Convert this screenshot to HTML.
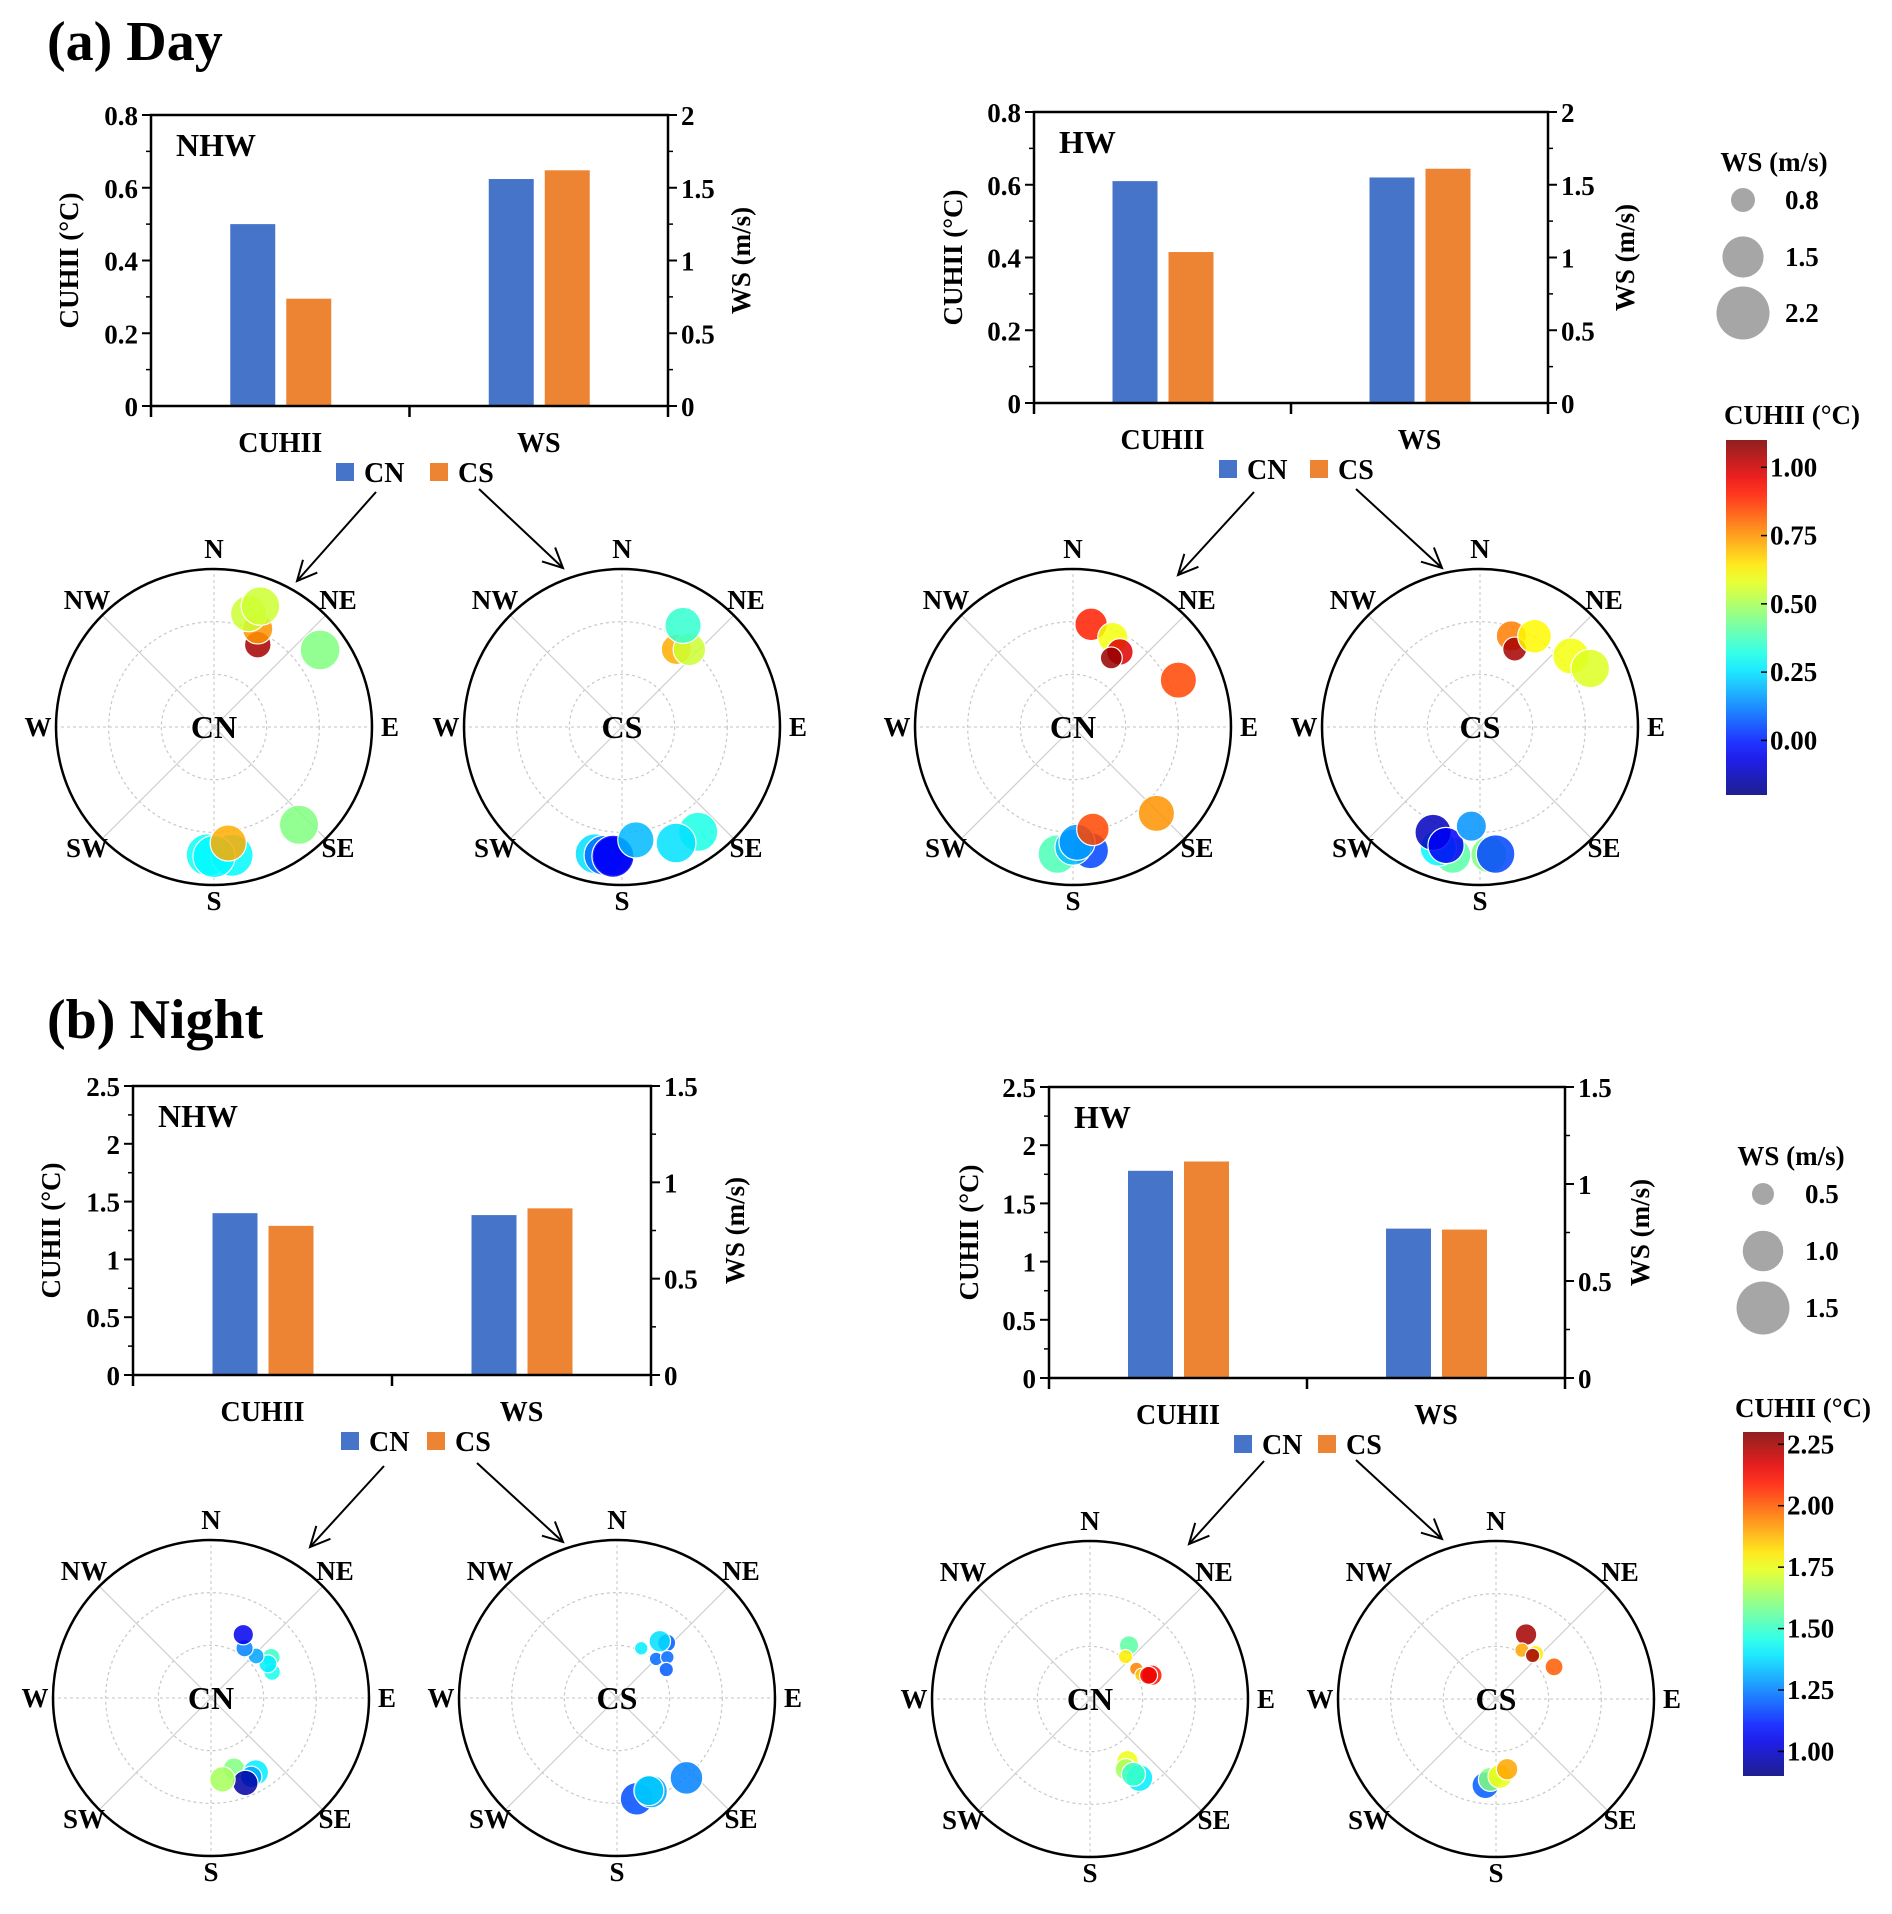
<!DOCTYPE html>
<html><head><meta charset="utf-8"><style>
html,body{margin:0;padding:0;background:#fff;}
svg{display:block;font-family:"Liberation Serif",serif;font-weight:bold;}
svg text{font-family:"Liberation Serif",serif;font-weight:bold;}
</style></head><body>
<svg id="fig" width="1892" height="1914" viewBox="0 0 1892 1914" xmlns="http://www.w3.org/2000/svg">
<text x="47" y="60" font-size="56" font-family="Liberation Serif, serif">(a) Day</text>
<text x="47" y="1038" font-size="56" font-family="Liberation Serif, serif">(b) Night</text>
</svg>
<script>
// ---------- bar data ----------
const barCategories = ["CUHII", "WS"];
const dayNhwCN = [0.50, 1.56];
const dayNhwCS = [0.295, 1.62];
const dayHwCN = [0.61, 1.55];
const dayHwCS = [0.415, 1.61];
const nightNhwCN = [1.40, 0.83];
const nightNhwCS = [1.29, 0.865];
const nightHwCN = [1.78, 0.77];
const nightHwCS = [1.86, 0.765];
const dayLeftTicks = ["0", "0.2", "0.4", "0.6", "0.8"];
const dayRightTicks = ["0", "0.5", "1", "1.5", "2"];
const nightLeftTicks = ["0", "0.5", "1", "1.5", "2", "2.5"];
const nightRightTicks = ["0", "0.5", "1", "1.5"];

// ---------- polar data: direction deg, radial fraction, WS, CUHII ----------
const dayNhwCNDir = [28, 24, 17, 21, 54, 139, 183, 172, 180, 173];
const dayNhwCNRad = [0.59, 0.68, 0.75, 0.82, 0.83, 0.82, 0.81, 0.82, 0.82, 0.74];
const dayNhwCNWs = [0.88, 1.01, 1.26, 1.37, 1.43, 1.4, 1.55, 1.55, 1.55, 1.26];
const dayNhwCNVal = [1.05, 0.75, 0.55, 0.55, 0.45, 0.45, 0.3, 0.28, 0.28, 0.72];

const dayNhwCSDir = [35, 41, 31, 144, 155, 192, 188, 184, 184, 173];
const dayNhwCSRad = [0.6, 0.65, 0.75, 0.82, 0.81, 0.82, 0.82, 0.82, 0.82, 0.72];
const dayNhwCSWs = [1.01, 1.1, 1.26, 1.4, 1.43, 1.43, 1.43, 1.43, 1.55, 1.26];
const dayNhwCSVal = [0.72, 0.55, 0.35, 0.32, 0.25, 0.25, 0.1, 0.0, -0.05, 0.2];

const dayHwCNDir = [10, 24, 32, 29, 66, 136, 187, 172, 180, 178, 169];
const dayHwCNRad = [0.66, 0.62, 0.56, 0.5, 0.73, 0.76, 0.81, 0.79, 0.76, 0.73, 0.66];
const dayHwCNWs = [1.1, 1.01, 0.88, 0.74, 1.26, 1.26, 1.37, 1.26, 1.26, 1.26, 1.1];
const dayHwCNVal = [0.9, 0.6, 0.98, 1.07, 0.85, 0.75, 0.38, 0.05, 0.2, 0.15, 0.85];

const dayHwCSDir = [19, 24, 31, 52, 62, 192, 199, 204, 196, 185, 176, 173];
const dayHwCSRad = [0.61, 0.54, 0.67, 0.73, 0.79, 0.83, 0.81, 0.73, 0.78, 0.63, 0.81, 0.81];
const dayHwCSWs = [1.01, 0.8, 1.15, 1.26, 1.37, 1.26, 1.26, 1.26, 1.26, 1.01, 1.26, 1.37];
const dayHwCSVal = [0.78, 1.05, 0.62, 0.6, 0.57, 0.4, 0.28, -0.12, -0.05, 0.15, 0.45, 0.05];

const nightNhwCNDir = [56, 67, 59, 47, 34, 27, 162, 149, 153, 158, 172];
const nightNhwCNRad = [0.46, 0.42, 0.42, 0.39, 0.38, 0.45, 0.47, 0.55, 0.56, 0.58, 0.52];
const nightNhwCNWs = [0.43, 0.41, 0.43, 0.4, 0.42, 0.47, 0.49, 0.57, 0.49, 0.57, 0.57];
const nightNhwCNVal = [1.5, 1.45, 1.4, 1.3, 1.25, 1.05, 1.6, 1.4, 1.3, 0.95, 1.65];

const nightNhwCSDir = [26, 42, 45, 51, 60, 37, 139, 169, 160, 161];
const nightNhwCSRad = [0.35, 0.47, 0.35, 0.41, 0.36, 0.45, 0.67, 0.65, 0.63, 0.62];
const nightNhwCSWs = [0.37, 0.43, 0.37, 0.37, 0.38, 0.49, 0.75, 0.75, 0.75, 0.68];
const nightNhwCSVal = [1.4, 1.2, 1.22, 1.22, 1.2, 1.38, 1.25, 1.18, 1.3, 1.35];

const nightHwCNDir = [36, 40, 57, 65, 69, 68, 149, 153, 148, 150];
const nightHwCNRad = [0.42, 0.35, 0.35, 0.36, 0.42, 0.4, 0.46, 0.5, 0.59, 0.55];
const nightHwCNWs = [0.45, 0.38, 0.37, 0.37, 0.47, 0.43, 0.49, 0.49, 0.6, 0.54];
const nightHwCNVal = [1.55, 1.8, 1.95, 1.85, 2.1, 2.15, 1.75, 1.65, 1.4, 1.5];

const nightHwCSDir = [25, 28, 41, 40, 61, 187, 184, 177, 171];
const nightHwCSRad = [0.45, 0.35, 0.38, 0.36, 0.42, 0.55, 0.51, 0.49, 0.45];
const nightHwCSWs = [0.49, 0.38, 0.41, 0.38, 0.43, 0.6, 0.54, 0.54, 0.49];
const nightHwCSVal = [2.25, 1.9, 1.8, 2.25, 2.0, 1.2, 1.6, 1.75, 1.9];

// ---------- legends ----------
const daySizeLegend = [0.8, 1.5, 2.2];
const nightSizeLegend = [0.5, 1.0, 1.5];
const dayColorTicks = [0.0, 0.25, 0.5, 0.75, 1.0];
const nightColorTicks = [1.0, 1.25, 1.5, 1.75, 2.0, 2.25];

const NS = "http://www.w3.org/2000/svg";
const svg = document.getElementById("fig");
function mk(tag, attrs, parent, txt) {
  const e = document.createElementNS(NS, tag);
  for (const k in attrs) e.setAttribute(k, attrs[k]);
  if (tag === "text") { e.setAttribute("font-family", "Liberation Serif, serif"); e.setAttribute("font-weight", "bold"); }
  if (txt !== undefined) e.textContent = txt;
  (parent || svg).appendChild(e);
  return e;
}
function jet(t) {
  t = Math.max(0, Math.min(1, t));
  const c = v => Math.round(255 * Math.max(0, Math.min(1, v)));
  return `rgb(${c(1.5 - Math.abs(4 * t - 3))},${c(1.5 - Math.abs(4 * t - 2))},${c(1.5 - Math.abs(4 * t - 1))})`;
}

function barPanel(p) {
  const g = mk("g", {});
  
  
  const W = p.x1 - p.x0, H = p.y1 - p.y0;
  const yL = v => p.y1 - v / p.lmax * H;
  const yR = v => p.y1 - v / p.rmax * H;
  const catX = i => p.x0 + W * (0.25 + 0.5 * i);
  const bw = 45;
  for (let i = 0; i < barCategories.length; i++) {
    const sc = i === 0 ? yL : yR;
    const cx = catX(i);
    const b1 = mk("rect", { x: cx - 50, y: sc(p.cn[i]), width: bw, height: p.y1 - sc(p.cn[i]), fill: "#4674C8" }, g);
    
    
    const b2 = mk("rect", { x: cx + 6, y: sc(p.cs[i]), width: bw, height: p.y1 - sc(p.cs[i]), fill: "#ED8433" }, g);
    
    
    const cl = mk("text", { x: cx, y: p.y1 + 46, "font-size": 28, "text-anchor": "middle" }, g, barCategories[i]);
    
    
  }
  const frame = mk("rect", { x: p.x0, y: p.y0, width: W, height: H, fill: "none", stroke: "#000", "stroke-width": 2.5 }, g);
  
  
  p.lt.forEach((t, i) => {
    const v = parseFloat(t), y = yL(v);
    mk("line", { x1: p.x0 - 9, x2: p.x0, y1: y, y2: y, stroke: "#000", "stroke-width": 2 }, g);
    const tl = mk("text", { x: p.x0 - 13, y: y + 10, "font-size": 27, "text-anchor": "end" }, g, t);
    
    
    if (i < p.lt.length - 1) {
      const ym = yL(v + p.lstep / 2);
      mk("line", { x1: p.x0 - 5, x2: p.x0, y1: ym, y2: ym, stroke: "#000", "stroke-width": 1.5 }, g);
    }
  });
  p.rt.forEach((t, i) => {
    const v = parseFloat(t), y = yR(v);
    mk("line", { x1: p.x1, x2: p.x1 + 9, y1: y, y2: y, stroke: "#000", "stroke-width": 2 }, g);
    const tr = mk("text", { x: p.x1 + 13, y: y + 10, "font-size": 27 }, g, t);
    
    
    if (i < p.rt.length - 1) {
      const ym = yR(v + p.rstep / 2);
      mk("line", { x1: p.x1, x2: p.x1 + 5, y1: ym, y2: ym, stroke: "#000", "stroke-width": 1.5 }, g);
    }
  });
  [0, 0.5, 1].forEach(f => mk("line", { x1: p.x0 + W * f, x2: p.x0 + W * f, y1: p.y1, y2: p.y1 + 11, stroke: "#000", "stroke-width": 2.5 }, g));
  const ym = (p.y0 + p.y1) / 2;
  const lt = mk("text", { x: p.x0 - p.ltOff, y: ym, "font-size": 27, "text-anchor": "middle", "dominant-baseline": "central", transform: `rotate(-90 ${p.x0 - p.ltOff} ${ym})` }, g, "CUHII (°C)");
  
  
  const rt = mk("text", { x: p.x1 + p.rtOff, y: ym, "font-size": 27, "text-anchor": "middle", "dominant-baseline": "central", transform: `rotate(-90 ${p.x1 + p.rtOff} ${ym})` }, g, "WS (m/s)");
  
  
  const lab = mk("text", { x: p.x0 + 25, y: p.y0 + 41, "font-size": 32 }, g, p.label);
  
  
  const ly = p.y1 + 66;
  const lg = mk("g", {}, g);
  
  
  mk("rect", { x: p.legCN, y: ly - 9, width: 18, height: 18, fill: "#4674C8" }, lg);
  mk("text", { x: p.legCN + 28, y: ly + 10, "font-size": 28 }, lg, "CN");
  mk("rect", { x: p.legCS, y: ly - 9, width: 18, height: 18, fill: "#ED8433" }, lg);
  mk("text", { x: p.legCS + 28, y: ly + 10, "font-size": 28 }, lg, "CS");
  p.arrows.forEach(a => {
    const ag = mk("g", {}, g);
    
    
    mk("line", { x1: a[0], y1: a[1], x2: a[2], y2: a[3], stroke: "#000", "stroke-width": 2 }, ag);
    const ang = Math.atan2(a[3] - a[1], a[2] - a[0]);
    const L = 22, s = 0.45;
    const p1 = [a[2] - L * Math.cos(ang - s), a[3] - L * Math.sin(ang - s)];
    const p2 = [a[2] - L * Math.cos(ang + s), a[3] - L * Math.sin(ang + s)];
    mk("polyline", { points: `${p1} ${a[2]},${a[3]} ${p2}`, fill: "none", stroke: "#000", "stroke-width": 2 }, ag);
  });
}

function polar(cx, cy, name, label, dir, rad, ws, val, sizeFn, vmin, vmax) {
  const R = 158;
  const g = mk("g", {});
  
  
  [R / 3, 2 * R / 3].forEach(r => mk("circle", { cx, cy, r, fill: "none", stroke: "#c8c8c8", "stroke-width": 1.2, "stroke-dasharray": "3 3" }, g));
  for (let k = 0; k < 8; k++) {
    const a = k * Math.PI / 4;
    mk("line", { x1: cx, y1: cy, x2: cx + R * Math.sin(a), y2: cy - R * Math.cos(a), stroke: "#cfcfcf", "stroke-width": 1.2, "stroke-dasharray": k % 2 ? "none" : "3 3" }, g);
  }
  mk("circle", { cx, cy, r: R, fill: "none", stroke: "#000", "stroke-width": 2.5 }, g);
  const comp = [["N", 0, -178], ["NE", 124, -127], ["E", 176, 0], ["SE", 124, 121], ["S", 0, 174], ["SW", -127, 121], ["W", -176, 0], ["NW", -127, -127]];
  comp.forEach(c => {
    const t = mk("text", { x: cx + c[1], y: cy + c[2], "font-size": 27, "text-anchor": "middle", "dominant-baseline": "central" }, g, c[0]);
    
    
  });
  const ct = mk("text", { x: cx, y: cy, "font-size": 32, "text-anchor": "middle", "dominant-baseline": "central" }, g, label);
  
  
  for (let i = 0; i < dir.length; i++) {
    const a = dir[i] * Math.PI / 180, r = rad[i] * R;
    const c = mk("circle", { cx: cx + r * Math.sin(a), cy: cy - r * Math.cos(a), r: sizeFn(ws[i]), fill: jet((val[i] - vmin) / (vmax - vmin)), "fill-opacity": 0.85, stroke: "#fff", "stroke-width": 1.2 }, g);
    
    
  }
}
const daySize = w => Math.sqrt(Math.max(4, 400 * w - 176));
const nightSize = w => Math.sqrt(Math.max(4, 580 * w - 169));

function sizeLegend(x, tx, ty, ys, vals, fn, name) {
  const g = mk("g", {});
  
  
  mk("text", { x: tx, y: ty, "font-size": 27, "text-anchor": "middle", "dominant-baseline": "central" }, g, "WS (m/s)");
  vals.forEach((v, i) => {
    mk("circle", { cx: x, cy: ys[i], r: fn(v), fill: "#a6a6a6" }, g);
    mk("text", { x: x + 42, y: ys[i], "font-size": 27, "dominant-baseline": "central" }, g, v.toFixed(1));
  });
}
function colorbar(x0, x1, y0, y1, vmin, vmax, ticks, tx, ty, name, gid) {
  const g = mk("g", {});
  
  
  const defs = mk("defs", {}, g);
  const lg = mk("linearGradient", { id: gid, x1: 0, y1: 1, x2: 0, y2: 0 }, defs);
  for (let i = 0; i <= 20; i++) mk("stop", { offset: i / 20, "stop-color": jet(i / 20), "stop-opacity": 0.88 }, lg);
  mk("text", { x: tx, y: ty, "font-size": 27, "text-anchor": "middle", "dominant-baseline": "central" }, g, "CUHII (°C)");
  mk("rect", { x: x0, y: y0, width: x1 - x0, height: y1 - y0, fill: `url(#${gid})` }, g);
  ticks.forEach(v => {
    const y = y1 - (v - vmin) / (vmax - vmin) * (y1 - y0);
    mk("line", { x1: x1 - 6, x2: x1, y1: y, y2: y, stroke: "#000", "stroke-width": 1.5 }, g);
    mk("text", { x: x1 + 3, y: y, "font-size": 27, "dominant-baseline": "central" }, g, v.toFixed(2));
  });
}

barPanel({ name: "day-nhw-bar-chart", x0: 151, x1: 668, y0: 115, y1: 406, lmax: 0.8, rmax: 2, lstep: 0.2, rstep: 0.5, lt: dayLeftTicks, rt: dayRightTicks, cn: dayNhwCN, cs: dayNhwCS, label: "NHW", ltOff: 82, rtOff: 73, legCN: 336, legCS: 430, arrows: [[376, 492, 297, 581], [479, 489, 563, 568]] });
barPanel({ name: "day-hw-bar-chart", x0: 1034, x1: 1548, y0: 112, y1: 403, lmax: 0.8, rmax: 2, lstep: 0.2, rstep: 0.5, lt: dayLeftTicks, rt: dayRightTicks, cn: dayHwCN, cs: dayHwCS, label: "HW", ltOff: 81, rtOff: 77, legCN: 1219, legCS: 1310, arrows: [[1254, 492, 1178, 575], [1356, 489, 1442, 568]] });
barPanel({ name: "night-nhw-bar-chart", x0: 133, x1: 651, y0: 1086, y1: 1375, lmax: 2.5, rmax: 1.5, lstep: 0.5, rstep: 0.5, lt: nightLeftTicks, rt: nightRightTicks, cn: nightNhwCN, cs: nightNhwCS, label: "NHW", ltOff: 82, rtOff: 84, legCN: 341, legCS: 427, arrows: [[384, 1466, 310, 1547], [477, 1463, 563, 1542]] });
barPanel({ name: "night-hw-bar-chart", x0: 1049, x1: 1565, y0: 1087, y1: 1378, lmax: 2.5, rmax: 1.5, lstep: 0.5, rstep: 0.5, lt: nightLeftTicks, rt: nightRightTicks, cn: nightHwCN, cs: nightHwCS, label: "HW", ltOff: 80, rtOff: 75, legCN: 1234, legCS: 1318, arrows: [[1264, 1461, 1189, 1544], [1356, 1460, 1442, 1539]] });

polar(214, 727, "day-nhw-cn-polar", "CN", dayNhwCNDir, dayNhwCNRad, dayNhwCNWs, dayNhwCNVal, daySize, -0.2, 1.1);
polar(622, 727, "day-nhw-cs-polar", "CS", dayNhwCSDir, dayNhwCSRad, dayNhwCSWs, dayNhwCSVal, daySize, -0.2, 1.1);
polar(1073, 727, "day-hw-cn-polar", "CN", dayHwCNDir, dayHwCNRad, dayHwCNWs, dayHwCNVal, daySize, -0.2, 1.1);
polar(1480, 727, "day-hw-cs-polar", "CS", dayHwCSDir, dayHwCSRad, dayHwCSWs, dayHwCSVal, daySize, -0.2, 1.1);
polar(211, 1698, "night-nhw-cn-polar", "CN", nightNhwCNDir, nightNhwCNRad, nightNhwCNWs, nightNhwCNVal, nightSize, 0.9, 2.3);
polar(617, 1698, "night-nhw-cs-polar", "CS", nightNhwCSDir, nightNhwCSRad, nightNhwCSWs, nightNhwCSVal, nightSize, 0.9, 2.3);
polar(1090, 1699, "night-hw-cn-polar", "CN", nightHwCNDir, nightHwCNRad, nightHwCNWs, nightHwCNVal, nightSize, 0.9, 2.3);
polar(1496, 1699, "night-hw-cs-polar", "CS", nightHwCSDir, nightHwCSRad, nightHwCSWs, nightHwCSVal, nightSize, 0.9, 2.3);

sizeLegend(1743, 1774, 162, [200, 257, 313], daySizeLegend, daySize, "day-size-legend");
sizeLegend(1763, 1791, 1156, [1194, 1251, 1308], nightSizeLegend, nightSize, "night-size-legend");
colorbar(1726, 1767, 440, 795, -0.2, 1.1, dayColorTicks, 1792, 415, "day-colorbar", "gday");
colorbar(1743, 1784, 1432, 1776, 0.9, 2.3, nightColorTicks, 1803, 1408, "night-colorbar", "gnight");
</script>
</body></html>
